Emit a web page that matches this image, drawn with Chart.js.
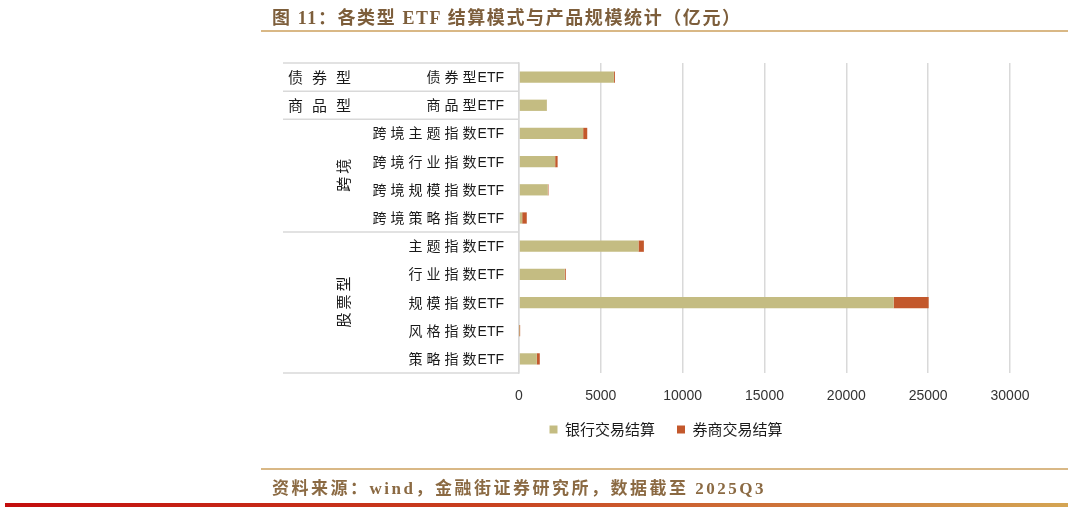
<!DOCTYPE html>
<html>
<head>
<meta charset="utf-8">
<script src="https://cdn.jsdelivr.net/npm/chart.js@4.4.0/dist/chart.umd.min.js"></script>
<style>
    body { margin: 0; background: #fff; }
    #page { position: relative; width: 1073px; height: 512px; overflow: hidden; font-family: "Liberation Serif", "Noto Sans CJK SC", serif; }
    #chart { position: absolute; left: 0; top: 0; }
    .title { position: absolute; left: 272px; top: 3px; font-size: 18px; font-weight: bold; color: #7d5e3b; white-space: nowrap; letter-spacing: 1.6px; }
    .source { position: absolute; left: 272px; top: 474px; font-size: 17px; font-weight: bold; color: #8b6a43; white-space: nowrap; letter-spacing: 2.5px; }
    .rule { position: absolute; left: 261px; width: 807px; background: #d9b886; }
    .band { position: absolute; left: 5px; width: 1063px; top: 503px; height: 4px; background: linear-gradient(to right, #c30d0d, #c8401f 45%, #d4a553); }
</style>
</head>
<body>
<div id="page">
    <canvas id="chart" width="1073" height="512"></canvas>
    <div class="title">图 11：各类型 ETF 结算模式与产品规模统计（亿元）</div>
    <div class="rule" style="top:30px;height:2px"></div>
    <div class="rule" style="top:468px;height:1.5px"></div>
    <div class="source">资料来源：wind，金融街证券研究所，数据截至 2025Q3</div>
    <div class="band"></div>
</div>
<script>
const categories = ['债券型ETF', '商品型ETF', '跨境主题指数ETF', '跨境行业指数ETF', '跨境规模指数ETF', '跨境策略指数ETF',
    '主题指数ETF', '行业指数ETF', '规模指数ETF', '风格指数ETF', '策略指数ETF'];
const bankSettle = [5800, 1700, 3920, 2210, 1760, 195, 7300, 2800, 22890, 20, 1090];
const brokerSettle = [60, 10, 250, 150, 40, 280, 330, 60, 2140, 50, 180];
const seriesNames = ['银行交易结算', '券商交易结算'];
const xTicks = [0, 5000, 10000, 15000, 20000, 25000, 30000];

// group name, first and last category index
const groupNames = ['债券型', '商品型', '跨境', '股票型'];
const groupRanges = [[0, 0], [1, 1], [2, 5], [6, 10]];

const gridColor = '#d9d9d9';

const groupPlugin = {
    id: 'groups',
    afterDraw(chart) {
        const { ctx, chartArea, scales: { y } } = chart;
        const edge = (i) => i < 0 ? chartArea.top :
            i >= categories.length - 1 ? chartArea.bottom :
            (y.getPixelForValue(i) + y.getPixelForValue(i + 1)) / 2;
        ctx.save();
        ctx.fillStyle = '#1a1a1a';
        ctx.textBaseline = 'alphabetic';

        // category labels, right aligned against the axis
        const right = chartArea.left - 15;
        categories.forEach((c, i) => {
            const py = y.getPixelForValue(i) + 5;
            const cn = c.replace('ETF', '');
            ctx.letterSpacing = '0px';
            ctx.font = '14px "Liberation Sans"';
            ctx.textAlign = 'left';
            const ew = ctx.measureText('ETF').width;
            ctx.fillText('ETF', right - ew, py);
            ctx.font = '14px "Noto Sans CJK SC"';
            ctx.letterSpacing = '4px';
            const cw = ctx.measureText(cn).width;
            ctx.fillText(cn, right - ew - cw + 3, py);
        });

        // group separators
        ctx.letterSpacing = '0px';
        ctx.strokeStyle = gridColor;
        ctx.lineWidth = 1.5;
        const lines = [edge(-1)].concat(groupRanges.map(r => edge(r[1])));
        lines.forEach(py => {
            ctx.beginPath();
            ctx.moveTo(283, py);
            ctx.lineTo(chartArea.left, py);
            ctx.stroke();
        });

        // group names
        ctx.font = '15px "Noto Sans CJK SC"';
        ctx.textBaseline = 'middle';
        groupNames.forEach((g, k) => {
            const [a, b] = groupRanges[k];
            const cy = (edge(a - 1) + edge(b)) / 2;
            if (a === b) {
                ctx.letterSpacing = '9px';
                ctx.textAlign = 'left';
                ctx.fillText(g, 288, cy);
            } else {
                ctx.letterSpacing = '3px';
                ctx.save();
                ctx.translate(343, cy);
                ctx.rotate(-Math.PI / 2);
                ctx.textAlign = 'center';
                ctx.fillText(g, 2, 0);
                ctx.restore();
            }
        });
        ctx.restore();
    }
};

new Chart(document.getElementById('chart').getContext('2d'), {
    type: 'bar',
    data: {
        labels: categories,
        datasets: [{
            label: seriesNames[0],
            data: bankSettle,
            backgroundColor: '#c4bc82'
        }, {
            label: seriesNames[1],
            data: brokerSettle,
            backgroundColor: '#c3582c'
        }]
    },
    options: {
        indexAxis: 'y',
        responsive: false,
        animation: false,
        layout: {
            padding: { left: 322, right: 63, top: 63, bottom: 65 }
        },
        datasets: {
            bar: { categoryPercentage: 1, barPercentage: 0.4 }
        },
        scales: {
            x: {
                stacked: true,
                min: 0,
                max: xTicks[xTicks.length - 1],
                afterBuildTicks(s) { s.ticks = xTicks.map(v => ({ value: v })); },
                afterFit(s) { s.height = 27; },
                grid: { color: gridColor, lineWidth: 1.5, drawTicks: false },
                border: { display: false },
                ticks: {
                    padding: 15,
                    color: '#333',
                    font: { family: 'Liberation Sans', size: 14 },
                    callback: (v) => String(v)
                }
            },
            y: {
                stacked: true,
                afterFit(s) { s.width = 197; },
                grid: { display: false },
                border: { display: true, color: gridColor, width: 1.5 },
                ticks: { display: false }
            }
        },
        plugins: {
            legend: {
                position: 'bottom',
                labels: {
                    boxWidth: 8,
                    boxHeight: 8,
                    padding: 22,
                    color: '#1a1a1a',
                    font: { family: 'Noto Sans CJK SC', size: 15 }
                }
            },
            tooltip: { enabled: false }
        }
    },
    plugins: [groupPlugin]
});
</script>
</body>
</html>
